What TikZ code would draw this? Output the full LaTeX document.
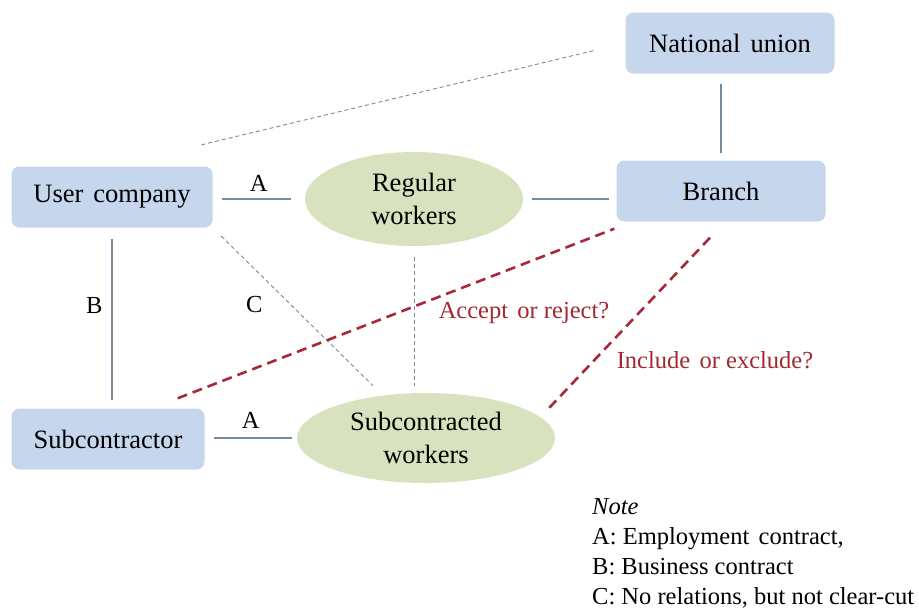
\documentclass[tikz,border=0pt]{standalone}
\usepackage{fontspec}
\setmainfont{Liberation Serif}
\usetikzlibrary{calc,shapes.geometric}
\definecolor{boxfill}{HTML}{C6D6EC}
\definecolor{ellfill}{HTML}{D8E2BE}
\definecolor{linegray}{HTML}{768A9E}
\definecolor{dashred}{HTML}{A8283A}
\definecolor{textred}{HTML}{A0282E}
% a slightly wider word gap
\newcommand{\wgap}{\hspace{0.38em}}
\begin{document}
\begin{tikzpicture}[x=1pt,y=-1pt,
  box/.style={fill=boxfill, rounded corners=8pt, minimum height=61pt,
    inner sep=0pt, font=\fontsize{26.5}{28}\selectfont},
  grp/.style={ellipse, fill=ellfill, inner sep=0pt, align=center,
    font=\fontsize{26.5}{33}\selectfont},
  link/.style={draw=linegray, line width=1.1pt},
  loose/.style={draw=linegray, line width=0.9pt, dash pattern=on 4pt off 3pt},
  query/.style={draw=dashred, line width=2.6pt, dash pattern=on 10pt off 6pt},
  lbl/.style={font=\fontsize{24.5}{26}\selectfont, inner sep=0pt},
  qlbl/.style={font=\fontsize{24.5}{26}\selectfont, text=textred, inner sep=0pt}]
\useasboundingbox (0,0) rectangle (919,608);

% organisations
\node[box, minimum width=201pt] (UC) at (112,197) {User\wgap company};
\node[box, minimum width=209pt] (NU) at (730,43) {National\wgap union};
\node[box, minimum width=209pt] (Br) at (721,191) {Branch};
\node[box, minimum width=193pt] (Sub) at (108,439) {Subcontractor};

% worker groups
\node[grp, minimum width=218pt, minimum height=94pt] (RW) at (414,199) {Regular\\workers};
\node[grp, minimum width=258pt, minimum height=90pt] (SW) at (426,438) {Subcontracted\\workers};

% contractual relations
\draw[link, shorten <=9pt, shorten >=14pt] (UC.east |- RW.west) -- (RW.west)
  node[lbl, midway, above=7pt] {A};
\draw[link, shorten <=9pt, shorten >=5pt] (Sub.east |- SW.west) -- (SW.west)
  node[lbl, midway, above=9pt] {A};
\draw[link, shorten <=11pt, shorten >=8pt] (UC.south) -- (UC.south |- Sub.north)
  node[lbl, pos=0.43, left=9pt] {B};
\draw[link, shorten <=9pt, shorten >=7pt] (RW.east) -- (RW.east -| Br.west);
\draw[link, shorten <=10pt, shorten >=7pt] (Br.north |- NU.south) -- (Br.north);

% loose relations
\draw[loose, shorten <=12pt, shorten >=14pt] (UC.south east) -- (SW)
  node[lbl, pos=0.46, left=28pt] {C};
\draw[loose, shorten <=11pt, shorten >=7pt] (RW.south) -- (RW.south |- SW.north);
\draw[loose, shorten <=92pt, shorten >=31pt] (UC.north) -- (NU.west);

% open questions for the union
\draw[query] ($(Sub.north east)+(-27,-10)$) -- ($(Br.south west)+(-2,7)$);
\draw[query] ($(Br.south)+(-11,16)$) -- ($(SW.east)+(-8,-28)$);
\node[qlbl] (acc) at (524,313) {Accept\wgap or reject?};
\node[qlbl] (inc) at (715,360) {Include\wgap or exclude?};

% legend
\node[anchor=north west, align=left, inner sep=0pt,
  font=\fontsize{24.5}{30}\selectfont] (note) at (592,498)
  {\textit{Note}\\A: Employment\wgap contract,\\B: Business contract\\C: No relations, but not clear-cut};
\end{tikzpicture}
\end{document}
